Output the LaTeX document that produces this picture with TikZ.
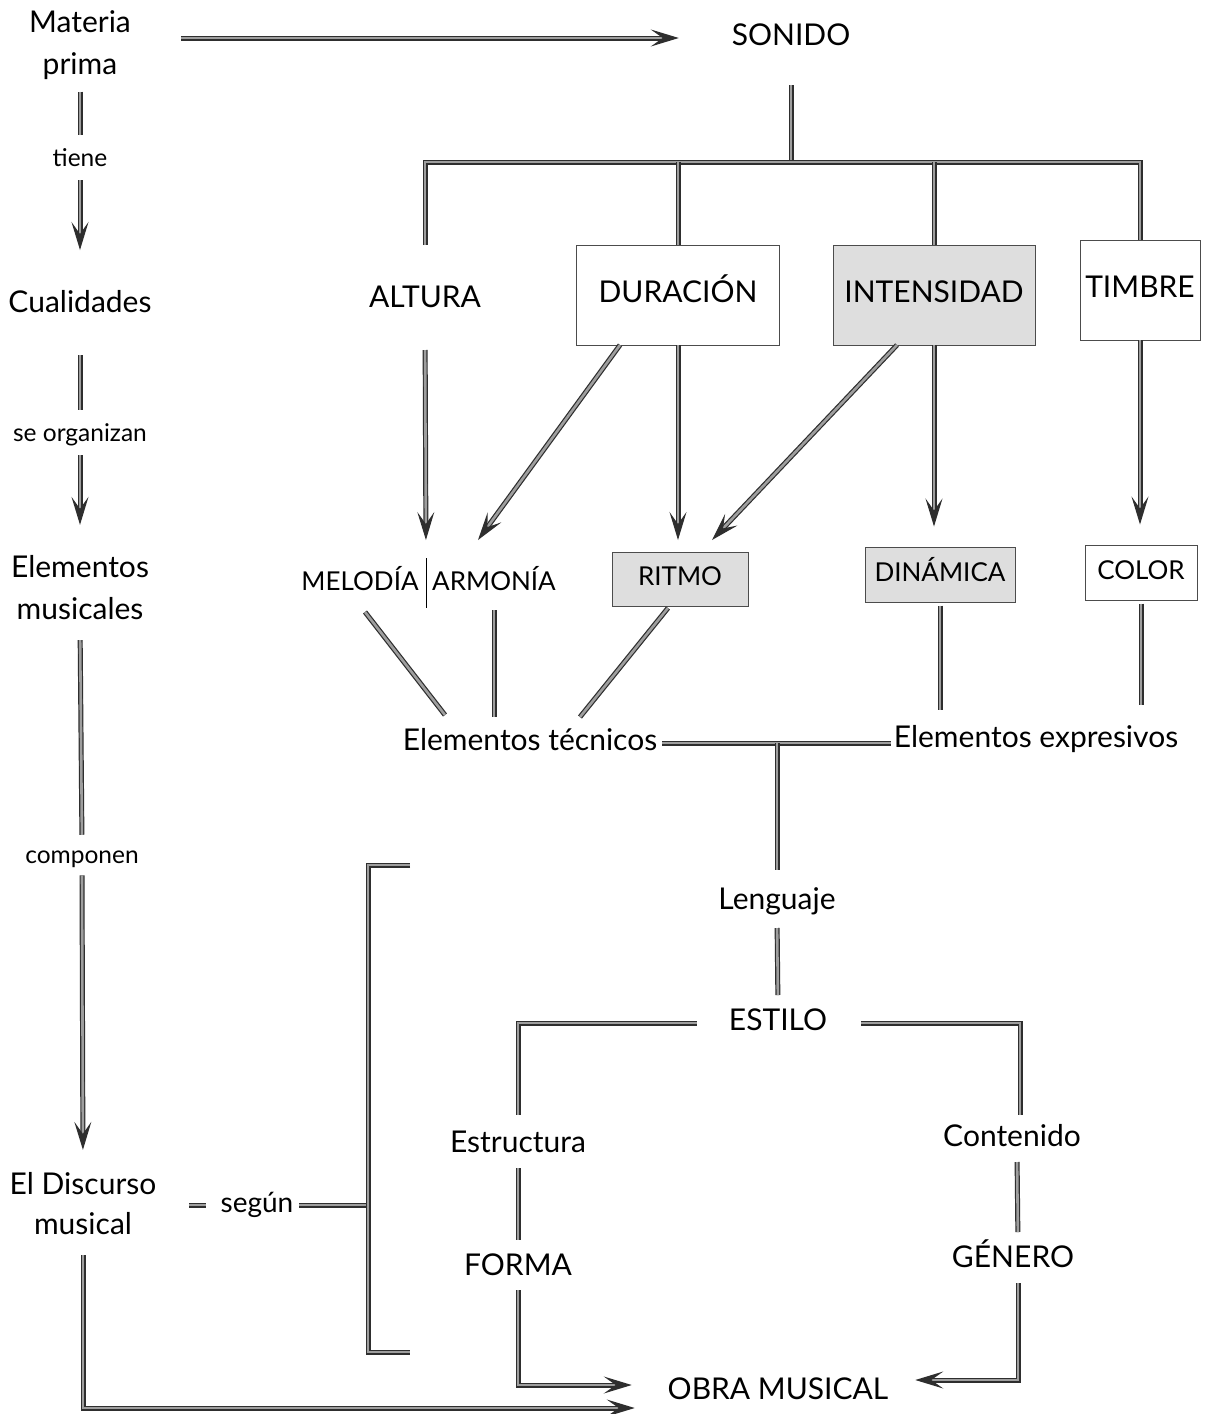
\documentclass[tikz,border=0pt]{standalone}
\usepackage{fontspec}
\setmainfont{Lato}
\usetikzlibrary{arrows.meta,calc}
\begin{document}
\begin{tikzpicture}[x=1pt,y=-1pt,
  dl/.style={draw=black!82, double=black!38, line width=1.2pt, double distance=2.6pt},
  arr/.style={dl, -{Stealth[length=28pt,width=17pt,inset=12pt]}},
  tx/.style={inner sep=0pt, outer sep=0pt, font=\fontsize{30}{36}\selectfont, text height=22.5pt, text depth=7.5pt},
  sm/.style={inner sep=0pt, outer sep=0pt, font=\fontsize{24.5}{28}\selectfont, text height=18.4pt, text depth=6.1pt},
  md/.style={inner sep=0pt, outer sep=0pt, font=\fontsize{26}{30}\selectfont, text height=19.5pt, text depth=6.5pt},
  two/.style={inner sep=0pt, outer sep=0pt, align=center, font=\fontsize{30}{42}\selectfont},
  bx/.style={draw=black!70, line width=0.8pt, fill=white},
  shd/.style={fill=black!13},
]
\fill[white] (0,0) rectangle (1208,1414);
\useasboundingbox (0,0) rectangle (1208,1414);

% left column
\node[two] (mat) at (80,45) {Materia\\prima};
\node[sm] (tiene) at (80,160) {tiene};
\node[tx] (cual) at (80,305) {Cualidades};
\node[sm] (seorg) at (80,435) {se organizan};
\node[two] (elmus) at (80,588) {Elementos\\musicales};
\node[sm] (comp) at (82,857) {componen};
\node[two, font=\fontsize{30}{40}\selectfont] (disc) at (83,1204) {El Discurso\\musical};
\node[tx, font=\fontsize{28}{32}\selectfont] (segun) at (257,1205) {según};

% right part
\node[tx] (sonido) at (791,38) {SONIDO};
\node[tx] (altura) at (425,300) {ALTURA};
\node[tx, bx, minimum width=203pt, minimum height=100pt] (dur) at (678,295) {DURACIÓN};
\node[tx, bx, shd, minimum width=202pt, minimum height=100pt] (int) at (934,295) {INTENSIDAD};
\node[tx, bx, minimum width=120pt, minimum height=100pt] (tim) at (1140,290) {TIMBRE};

\node[md] (mel) at (360,584) {MELODÍA};
\node[md] (arm) at (494,584) {ARMONÍA};
\node[md, bx, shd, minimum width=136pt, minimum height=54pt] (rit) at (680,579) {RITMO};
\node[md, bx, shd, minimum width=150pt, minimum height=55pt] (din) at (940,575) {DINÁMICA};
\node[md, bx, minimum width=112pt, minimum height=55pt] (col) at (1141,573) {COLOR};

\node[tx] (tec) at (530,743) {Elementos técnicos};
\node[tx] (expr) at (1036,740) {Elementos expresivos};
\node[tx] (leng) at (777,902) {Lenguaje};
\node[tx] (estilo) at (778,1023) {ESTILO};
\node[tx] (estr) at (518,1145) {Estructura};
\node[tx] (cont) at (1012,1139) {Contenido};
\node[tx] (forma) at (518,1268) {FORMA};
\node[tx] (gen) at (1013,1260) {GÉNERO};
\node[tx] (obra) at (778,1392) {OBRA MUSICAL};

\coordinate (bar) at (792,162);
\coordinate (septop) at (426,558);
\coordinate (sepbot) at (426,608);
\coordinate (brtop) at (410,865);
\coordinate (brbot) at (410,1352);
\coordinate (brmid) at (368,1205);

\draw[black, line width=1pt] (septop) -- (sepbot);

% left column connectors
\draw[arr, shorten <=50pt, shorten >=53pt] (mat.east |- sonido.west) -- (sonido.west);
\draw[dl, shorten <=12pt, shorten >=13pt] (mat.south) -- (tiene.north);
\draw[arr, shorten <=8pt, shorten >=40pt] (tiene.south) -- (cual.north);
\draw[dl, shorten <=35pt, shorten >=13pt] (cual.south) -- (seorg.north);
\draw[arr, shorten <=8pt, shorten >=31pt] (seorg.south) -- (elmus.north);
\draw[dl, shorten <=20pt, shorten >=10pt] (elmus.south) -- (comp.north);
\draw[arr, shorten <=6pt, shorten >=23pt] (comp.south) -- (disc.north);
\draw[arr, shorten <=20pt, shorten >=33pt] (disc.south) |- ([yshift=-16pt]obra.west);
\draw[dl, shorten <=33pt, shorten >=15pt] (disc.east |- segun.west) -- (segun.west);
\draw[dl, shorten <=6pt] (segun.east) -- (brmid);
\draw[dl] (brtop) -- (brtop -| brmid) -- (brbot -| brmid) -- (brbot);

% sonido tree
\draw[dl, shorten <=32pt] (sonido.south) -- (sonido.south |- bar);
\draw[dl] ([yshift=40pt]altura.north) |- (bar) -| (tim.north);
\draw[dl] (dur.north |- bar) -- (dur.north);
\draw[dl] (int.north |- bar) -- (int.north);

% to row 3
\draw[arr, shorten <=35pt, shorten >=18pt] (altura.south) -- (septop);
\draw[arr] ([xshift=-58pt]dur.south) -- ($(arm.north)+(-16,-31)$);
\draw[arr, shorten >=12pt] (dur.south) -- (dur.south |- rit.north);
\draw[arr] ([xshift=-37pt]int.south) -- ($(rit.north)+(32,-12)$);
\draw[arr, shorten >=21pt] (int.south) -- (int.south |- din.north);
\draw[arr, shorten >=21pt] (tim.south) -- (tim.south |- col.north);

% to row 4
\draw[dl] ($(mel.south)+(5,15)$) -- ($(tec.north)+(-85,-13)$);
\draw[dl, shorten <=13pt, shorten >=11pt] (arm.south) -- (arm.south |- tec.north);
\draw[dl] ($(rit.south)+(-12,2)$) -- ($(tec.north)+(50,-11)$);
\draw[dl, shorten <=3pt, shorten >=15pt] (din.south) -- (din.south |- expr.north);
\draw[dl, shorten <=3pt, shorten >=20pt] (col.south) -- (col.south |- expr.north);
\draw[dl, shorten <=5pt, shorten >=3pt] (tec.east) -- (tec.east -| expr.west);
\draw[dl, shorten >=17pt] (tec.east -| leng.north) -- (leng.north);
\draw[dl, shorten <=11pt, shorten >=13pt] (leng.south) -- (estilo.north);
\draw[dl, shorten <=32pt, shorten >=15pt] (estilo.west) -| (estr.north);
\draw[dl, shorten <=34pt, shorten >=9pt] (estilo.east) -| ([xshift=8pt]cont.north);
\draw[dl, shorten <=8pt, shorten >=13pt] (estr.south) -- (forma.north);
\draw[dl, shorten <=8pt, shorten >=13pt] ([xshift=5pt]cont.south) -- ([xshift=5pt]gen.north);
\draw[arr, shorten <=7pt, shorten >=36pt] (forma.south) |- ([yshift=7pt]obra.west);
\draw[arr, shorten <=8pt, shorten >=27pt] ([xshift=5pt]gen.south) |- ([yshift=12pt]obra.east);
\end{tikzpicture}
\end{document}
